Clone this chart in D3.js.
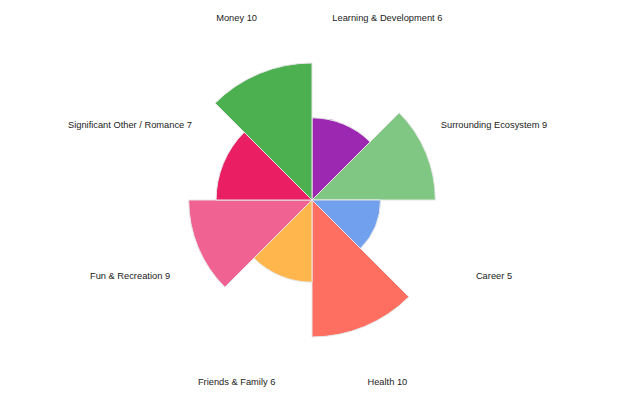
<!doctype html>
<html lang="en">
  <head>
    <meta charset="UTF-8" />
    <title>Wheel of Life</title>
    <script src="https://unpkg.com/d3@7.9.0/dist/d3.min.js"></script>
    <style>
      body {
        margin: 0;
        background: #fff;
        font-family: 'Liberation Sans', Arial, sans-serif;
      }
      svg text {
        font-size: 9.3px;
        fill: #222;
      }
    </style>
  </head>
  <body>
    <div id="chart"></div>
    <script>
      // clockwise from 12 o'clock
      const categories = [
        'Learning & Development',
        'Surrounding Ecosystem',
        'Career',
        'Health',
        'Friends & Family',
        'Fun & Recreation',
        'Significant Other / Romance',
        'Money',
      ];
      const scores = [6, 9, 5, 10, 6, 9, 7, 10];
      const colors = [
        '#9c27b0',
        '#81c784',
        '#71a1ee',
        '#ff6f61',
        '#ffb74d',
        '#f06292',
        '#e91e63',
        '#4caf50',
      ];

      const width = 618;
      const height = 404;
      const cx = 312;
      const cy = 200;
      const maxR = 137;
      const labelR = 197;

      const svg = d3
        .select('#chart')
        .append('svg')
        .attr('width', width)
        .attr('height', height);

      const g = svg
        .append('g')
        .attr('transform', `translate(${cx},${cy})`);

      const rScale = d3
        .scaleLinear()
        .domain([0, 10])
        .range([0, maxR]);

      const angle = d3
        .scaleBand()
        .domain(categories)
        .range([0, 2 * Math.PI])
        .padding(0);

      const data = categories.map((c, i) => ({
        name: c,
        value: scores[i],
        color: colors[i],
      }));

      const arc = d3
        .arc()
        .innerRadius(0)
        .outerRadius((d) => rScale(d.value))
        .startAngle((d) => angle(d.name))
        .endAngle((d) => angle(d.name) + angle.bandwidth());

      g.selectAll('path')
        .data(data)
        .enter()
        .append('path')
        .attr('d', arc)
        .attr('fill', (d) => d.color)
        .attr('stroke', '#e6e6e6')
        .attr('stroke-width', 1);

      // labels at the middle of each sector
      g.selectAll('text')
        .data(data)
        .enter()
        .append('text')
        .attr('text-anchor', 'middle')
        .attr('dy', '0.35em')
        .attr('x', (d) => {
          const a = angle(d.name) + angle.bandwidth() / 2;
          return labelR * Math.sin(a);
        })
        .attr('y', (d) => {
          const a = angle(d.name) + angle.bandwidth() / 2;
          return -labelR * Math.cos(a);
        })
        .text((d) => `${d.name} ${d.value}`);
    </script>
  </body>
</html>
